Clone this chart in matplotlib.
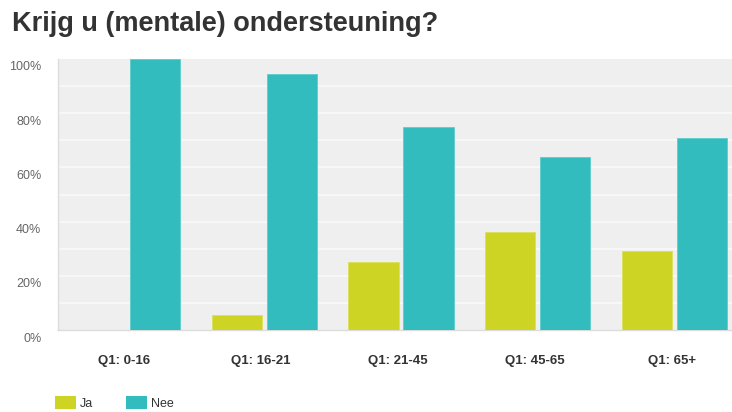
import matplotlib
matplotlib.use("Agg")
import matplotlib.pyplot as plt
import matplotlib.transforms as mtransforms
from matplotlib.patches import Patch
import numpy as np

categories = ["Q1: 0-16", "Q1: 16-21", "Q1: 21-45", "Q1: 45-65", "Q1: 65+"]
ja = [0, 5.5, 25, 36, 29]
nee = [100, 94.5, 75, 64, 71]
series_names = ["Ja", "Nee"]
yticks = [0, 20, 40, 60, 80, 100]
ytick_labels = ["0%", "20%", "40%", "60%", "80%", "100%"]
title = "Krijg u (mentale) ondersteuning?"

col_ja = "#cdd424"
col_nee = "#33bcbe"

plt.rcParams['font.family'] = ['Liberation Sans', 'DejaVu Sans']

W, H = 732, 412
fig = plt.figure(figsize=(W / 100, H / 100), dpi=100)
fig.patch.set_facecolor("white")

left_px, right_px, top_px, bottom_px = 58, 732, 59, 330
ax = fig.add_axes([left_px / W, 1 - bottom_px / H,
                   (right_px - left_px) / W, (bottom_px - top_px) / H])
ax.set_facecolor("#efefef")

x = np.arange(len(categories))
bw = 0.366
off = 0.201
ax.bar(x - off, ja, bw, color=col_ja, edgecolor="#dbe05c", linewidth=0.6, zorder=3)
ax.bar(x + off, nee, bw, color=col_nee, edgecolor="#5ccccd", linewidth=0.6, zorder=3)

ax.set_xlim(-0.508, 4.42)
ax.set_ylim(0, 100)

for g in range(10, 100, 10):
    ax.axhline(g, color="#f8f8f8", linewidth=1.3, zorder=1)

ax.set_yticks(yticks)
ax.set_yticklabels(ytick_labels, fontsize=9, color="#666666")
ax.tick_params(axis="y", length=0, pad=12)
ax.set_xticks(x)
ax.set_xticklabels(categories, fontsize=9.5, fontweight="bold", color="#333333")
ax.tick_params(axis="x", length=0, pad=18)

shift = mtransforms.ScaledTranslation(0, -0.07, fig.dpi_scale_trans)
for lbl in ax.get_yticklabels():
    lbl.set_transform(lbl.get_transform() + shift)
xshift = mtransforms.ScaledTranslation(-0.03, 0, fig.dpi_scale_trans)
for lbl in ax.get_xticklabels():
    lbl.set_transform(lbl.get_transform() + xshift)

for s in ["top", "right"]:
    ax.spines[s].set_visible(False)
for s in ["left", "bottom"]:
    ax.spines[s].set_color("#dcdcdc")
    ax.spines[s].set_linewidth(1.0)

fig.text(12 / W, 1 - 24 / H, title, fontsize=19.5, fontweight="bold",
         color="#333333", ha="left", va="center")

handles = [Patch(facecolor=col_ja, edgecolor="none"), Patch(facecolor=col_nee, edgecolor="none")]
leg = fig.legend(handles, series_names, loc="center left",
                 bbox_to_anchor=(55 / W, 1 - 403 / H), ncol=2, frameon=False,
                 fontsize=9, handlelength=1.7, handleheight=1.2,
                 handletextpad=0.3, columnspacing=2.6, borderpad=0, borderaxespad=0)
for t in leg.get_texts():
    t.set_color("#333333")

fig.savefig("out.png", dpi=100)
